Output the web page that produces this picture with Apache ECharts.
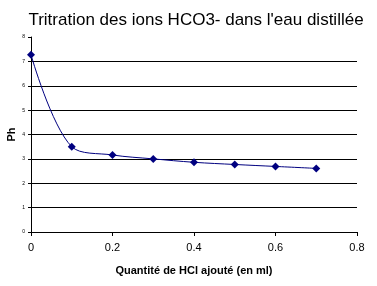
<!DOCTYPE html>
<html><head><meta charset="utf-8">
<script src="https://cdn.jsdelivr.net/npm/echarts@6/dist/echarts.min.js"></script>
<style>html,body{margin:0;padding:0;background:#fff}#c{width:377px;height:286px}</style>
</head><body><div id="c"></div>
<script>
var titleText = "Tritration des ions HCO3- dans l'eau distillée";
var xName = "Quantité de HCl ajouté (en ml)";
var yName = "Ph";
var volumes = [0, 0.1, 0.2, 0.3, 0.4, 0.5, 0.6, 0.7];
var ph = [7.27, 3.5, 3.16, 3.0, 2.86, 2.77, 2.69, 2.61];

var chart = echarts.init(document.getElementById('c'), null, {renderer: 'canvas'});
var data = volumes.map(function (v, i) { return [v, ph[i]]; });
chart.setOption({
  backgroundColor: '#fff',
  animation: false,
  title: {
    text: titleText, left: 191, top: 7, textAlign: 'center',
    textStyle: {fontFamily: 'Liberation Sans, Arial', fontSize: 17, fontWeight: 'normal', color: '#000'}
  },
  grid: {left: 31, right: 20, top: 37, bottom: 54, containLabel: false, outerBoundsMode: 'none'},
  xAxis: {
    type: 'value', min: 0, max: 0.8, interval: 0.2,
    name: xName, nameLocation: 'middle', nameGap: 33,
    nameTextStyle: {fontFamily: 'Liberation Sans, Arial', fontSize: 11, fontWeight: 'bold', color: '#000'},
    axisLine: {show: true, lineStyle: {color: '#000', width: 1}},
    axisTick: {show: true, length: 4, lineStyle: {color: '#000'}},
    axisLabel: {fontFamily: 'Liberation Sans, Arial', fontSize: 11, color: '#000', margin: 10},
    splitLine: {show: false}
  },
  yAxis: {
    type: 'value', min: 0, max: 8, interval: 1,
    name: yName, nameLocation: 'middle', nameGap: 14, nameRotate: 90, nameMoveOverlap: false,
    nameTextStyle: {fontFamily: 'Liberation Sans, Arial', fontSize: 11, fontWeight: 'bold', color: '#000'},
    axisLine: {show: true, lineStyle: {color: '#000', width: 1}},
    axisTick: {show: true, length: 3, lineStyle: {color: '#000'}},
    axisLabel: {fontFamily: 'Liberation Sans, Arial', fontSize: 5, color: '#000', margin: 6},
    splitLine: {show: true, lineStyle: {color: ['#000','#000','#000','#000','#000','#000','#000','#000','rgba(0,0,0,0)'], width: 1}}
  },
  series: [{
    type: 'line', data: data, smooth: 0.35,
    symbol: 'diamond', symbolSize: 8,
    lineStyle: {color: '#000080', width: 1},
    itemStyle: {color: '#000080'}
  }]
});
</script></body></html>
